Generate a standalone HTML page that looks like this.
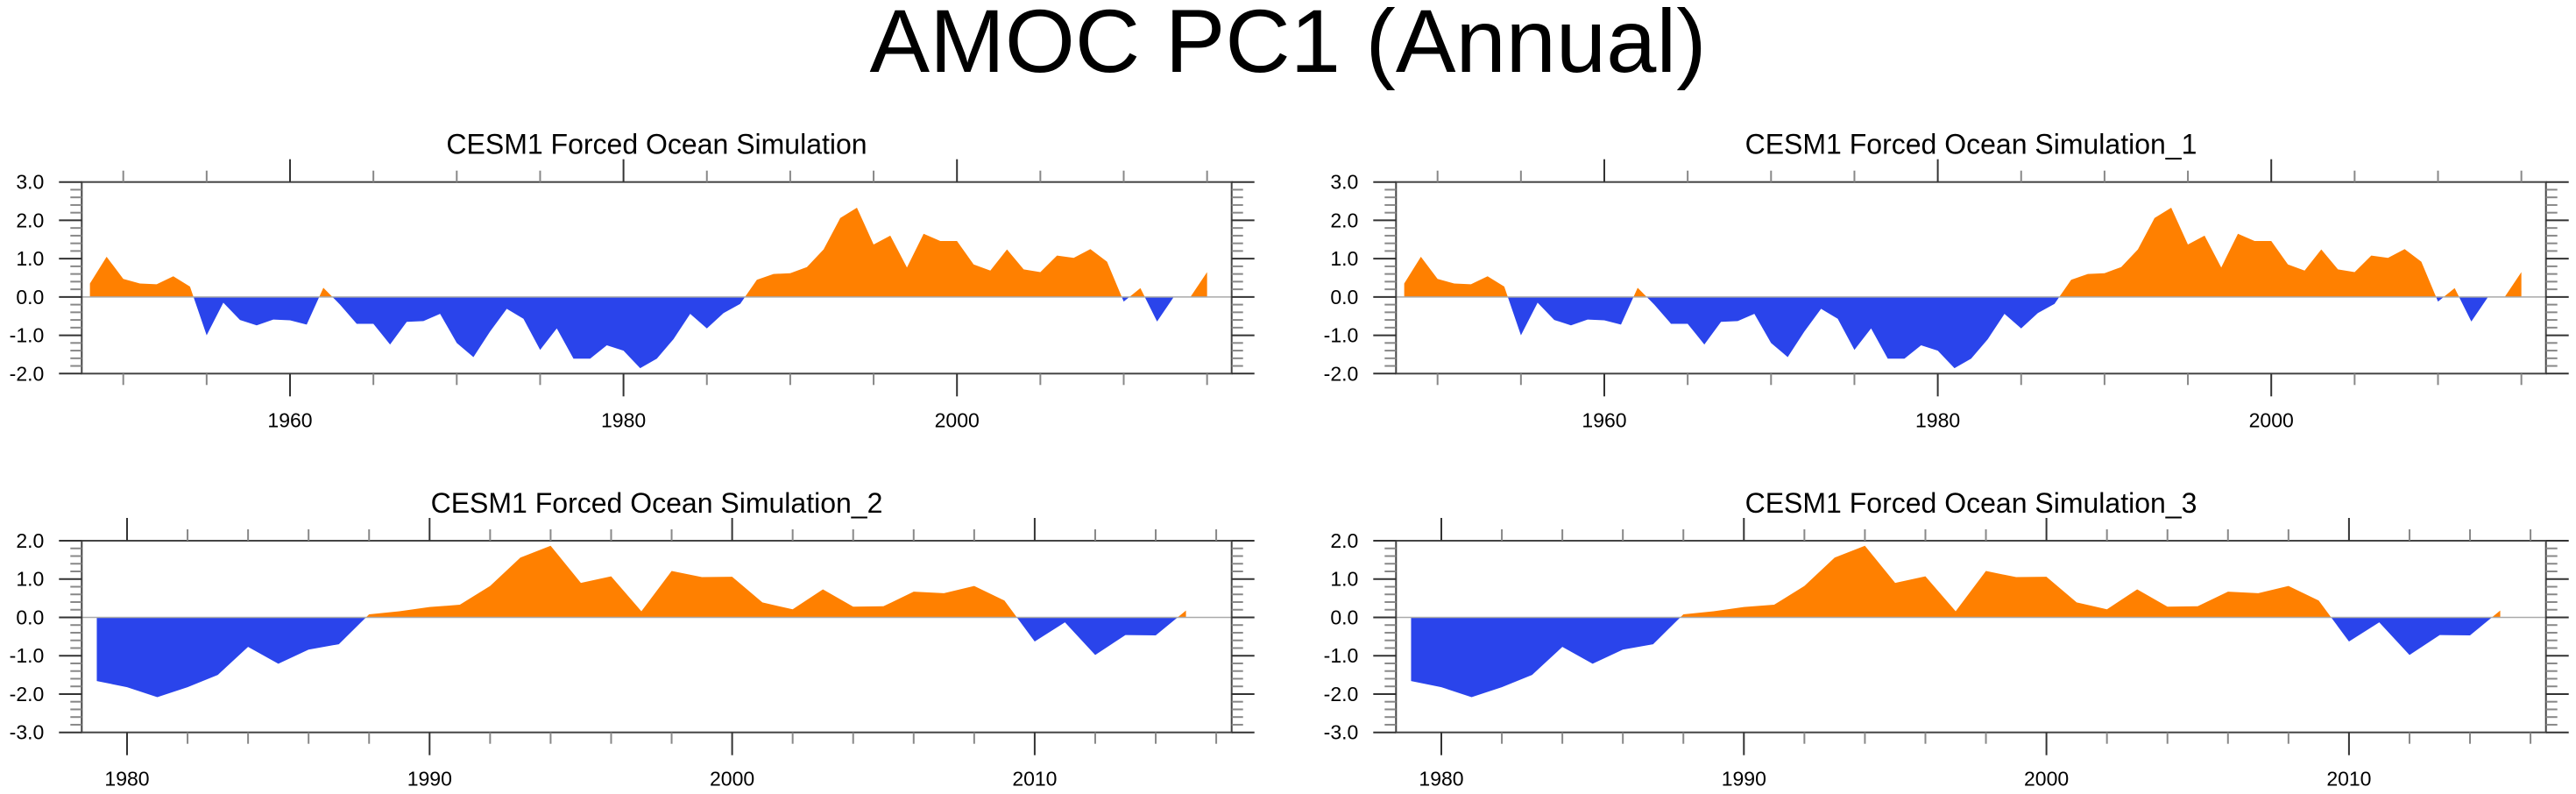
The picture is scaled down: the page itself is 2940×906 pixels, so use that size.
<!DOCTYPE html>
<html><head><meta charset="utf-8"><style>
html,body{margin:0;padding:0;background:#fff;width:2940px;height:906px;overflow:hidden}
svg{display:block}
text{font-family:"Liberation Sans",Arial,sans-serif;fill:#000}
</style></head><body>
<svg id="fig" width="2940" height="906" viewBox="0 0 2940 906" xmlns="http://www.w3.org/2000/svg">
<text x="1470" y="82" font-size="102" text-anchor="middle" textLength="955" lengthAdjust="spacingAndGlyphs">AMOC PC1 (Annual)</text>
</svg>
<script>
// ---- data ----
const yearsLong = [];
for (let y = 1948; y <= 2015; y++) yearsLong.push(y);
const pcLong = [0.35,1.05,0.47,0.35,0.33,0.54,0.27,-1.0,-0.15,-0.6,-0.74,-0.59,-0.61,-0.72,0.24,-0.2,-0.7,-0.7,-1.24,-0.65,-0.63,
 -0.44,-1.2,-1.57,-0.9,-0.31,-0.57,-1.38,-0.82,-1.61,-1.61,-1.26,-1.4,-1.86,-1.61,-1.1,-0.44,-0.82,-0.42,-0.18,
 0.45,0.6,0.62,0.78,1.24,2.06,2.33,1.37,1.6,0.77,1.65,1.46,1.46,0.85,0.69,1.24,0.72,0.65,1.08,1.02,1.25,0.92,
 -0.12,0.23,-0.64,0.0,0.0,0.65];
const yearsShort = [];
for (let y = 1979; y <= 2015; y++) yearsShort.push(y);
const pcShort = [-1.66,-1.82,-2.08,-1.82,-1.5,-0.77,-1.21,-0.84,-0.7,0.08,0.16,0.27,0.33,0.82,1.56,1.87,0.9,1.07,0.16,1.21,1.05,1.06,
 0.39,0.21,0.73,0.28,0.29,0.67,0.63,0.82,0.44,-0.63,-0.13,-0.98,-0.46,-0.47,0.18];
const yTicksTop = ["3.0","2.0","1.0","0.0","-1.0","-2.0"];
const yTicksBottom = ["2.0","1.0","0.0","-1.0","-2.0","-3.0"];
const xTicksTop = [1960,1980,2000];
const xTicksBottom = [1980,1990,2000,2010];
const titles = ["CESM1 Forced Ocean Simulation","CESM1 Forced Ocean Simulation_1","CESM1 Forced Ocean Simulation_2","CESM1 Forced Ocean Simulation_3"];

const NS = "http://www.w3.org/2000/svg";
const svg = document.getElementById('fig');
function mk(tag, attrs, parent){ const e=document.createElementNS(NS,tag); for(const k in attrs) e.setAttribute(k,attrs[k]); (parent||svg).appendChild(e); return e; }

function panel(idx, ox, top, bottom, ymin, ymax, xmin, xmax, years, vals, yTicks, xTicks, xMinorStep, xMinorStart){
  const L = 93.3 + ox, R = 1405.7 + ox;
  const g = mk('g', {});
  
  
  const X = v => L + (v - xmin) / (xmax - xmin) * (R - L);
  const Y = v => bottom - (v - ymin) / (ymax - ymin) * (bottom - top);
  const y0 = Y(0);
  // title
  const t = mk('text', {x:(L+R)/2, y: top-32, 'font-size':32, 'text-anchor':'middle'}, g);
  
  
  t.textContent = titles[idx];
  // clip paths
  const cpA = 'clipA'+idx, cpB = 'clipB'+idx;
  const d = mk('defs', {}, g);
  const c1 = mk('clipPath', {id:cpA}, d); mk('rect', {x:L, y:top, width:R-L, height:y0-top}, c1);
  const c2 = mk('clipPath', {id:cpB}, d); mk('rect', {x:L, y:y0, width:R-L, height:bottom-y0}, c2);
  let pts = X(years[0]).toFixed(2)+','+y0.toFixed(2)+' ';
  for (let i=0;i<years.length;i++) pts += X(years[i]).toFixed(2)+','+Y(vals[i]).toFixed(2)+' ';
  pts += X(years[years.length-1]).toFixed(2)+','+y0.toFixed(2);
  const pa = mk('polygon', {points:pts, fill:'#ff8000', 'clip-path':'url(#'+cpA+')'}, g);
  
  
  const pb = mk('polygon', {points:pts, fill:'#2a44eb', 'clip-path':'url(#'+cpB+')'}, g);
  
  
  mk('line', {x1:L, x2:R, y1:y0, y2:y0, stroke:'#aaa', 'stroke-width':1.5}, g);
  // frame
  const fr = mk('rect', {x:L, y:top, width:R-L, height:bottom-top, fill:'none', stroke:'#444', 'stroke-width':2}, g);
  
  
  // y ticks
  for (let v = ymin; v <= ymax + 1e-6; v += 0.2) {
    const vv = Math.round(v*10)/10;
    const major = Math.abs(vv - Math.round(vv)) < 1e-6;
    const yy = Y(vv), len = major ? 26 : 13;
    const col = major ? '#333' : '#888';
    mk('line', {x1:L-len, x2:L, y1:yy, y2:yy, stroke:col, 'stroke-width':2}, g);
    mk('line', {x1:R, x2:R+len, y1:yy, y2:yy, stroke:col, 'stroke-width':2}, g);
  }
  yTicks.forEach(s => {
    const tx = mk('text', {x:L-43, y:Y(parseFloat(s))+8, 'font-size':23, 'text-anchor':'end'}, g);
    
    
    tx.textContent = s;
  });
  // x ticks
  for (let yr = xMinorStart; yr <= xmax; yr += xMinorStep) {
    if (yr < xmin) continue;
    const major = xTicks.indexOf(yr) >= 0;
    const xx = X(yr), len = major ? 26 : 13;
    const col = major ? '#333' : '#888';
    mk('line', {x1:xx, x2:xx, y1:top-len, y2:top, stroke:col, 'stroke-width':2}, g);
    mk('line', {x1:xx, x2:xx, y1:bottom, y2:bottom+len, stroke:col, 'stroke-width':2}, g);
  }
  xTicks.forEach(yr => {
    const tx = mk('text', {x:X(yr), y:bottom+61, 'font-size':23, 'text-anchor':'middle'}, g);
    
    
    tx.textContent = String(yr);
  });
}
const xminL = 1960 - (331-93.3)/19.03, xmaxL = 1960 + (1405.7-331)/19.03;
const xminS = 1980 - (145-93.3)/34.53, xmaxS = 1980 + (1405.7-145)/34.53;
panel(0, 0, 207.7, 426.3, -2, 3, xminL, xmaxL, yearsLong, pcLong, yTicksTop, xTicksTop, 5, 1950);
panel(1, 1500, 207.7, 426.3, -2, 3, xminL, xmaxL, yearsLong, pcLong, yTicksTop, xTicksTop, 5, 1950);
panel(2, 0, 617, 835.7, -3, 2, xminS, xmaxS, yearsShort, pcShort, yTicksBottom, xTicksBottom, 2, 1980);
panel(3, 1500, 617, 835.7, -3, 2, xminS, xmaxS, yearsShort, pcShort, yTicksBottom, xTicksBottom, 2, 1980);
</script>
</body></html>
